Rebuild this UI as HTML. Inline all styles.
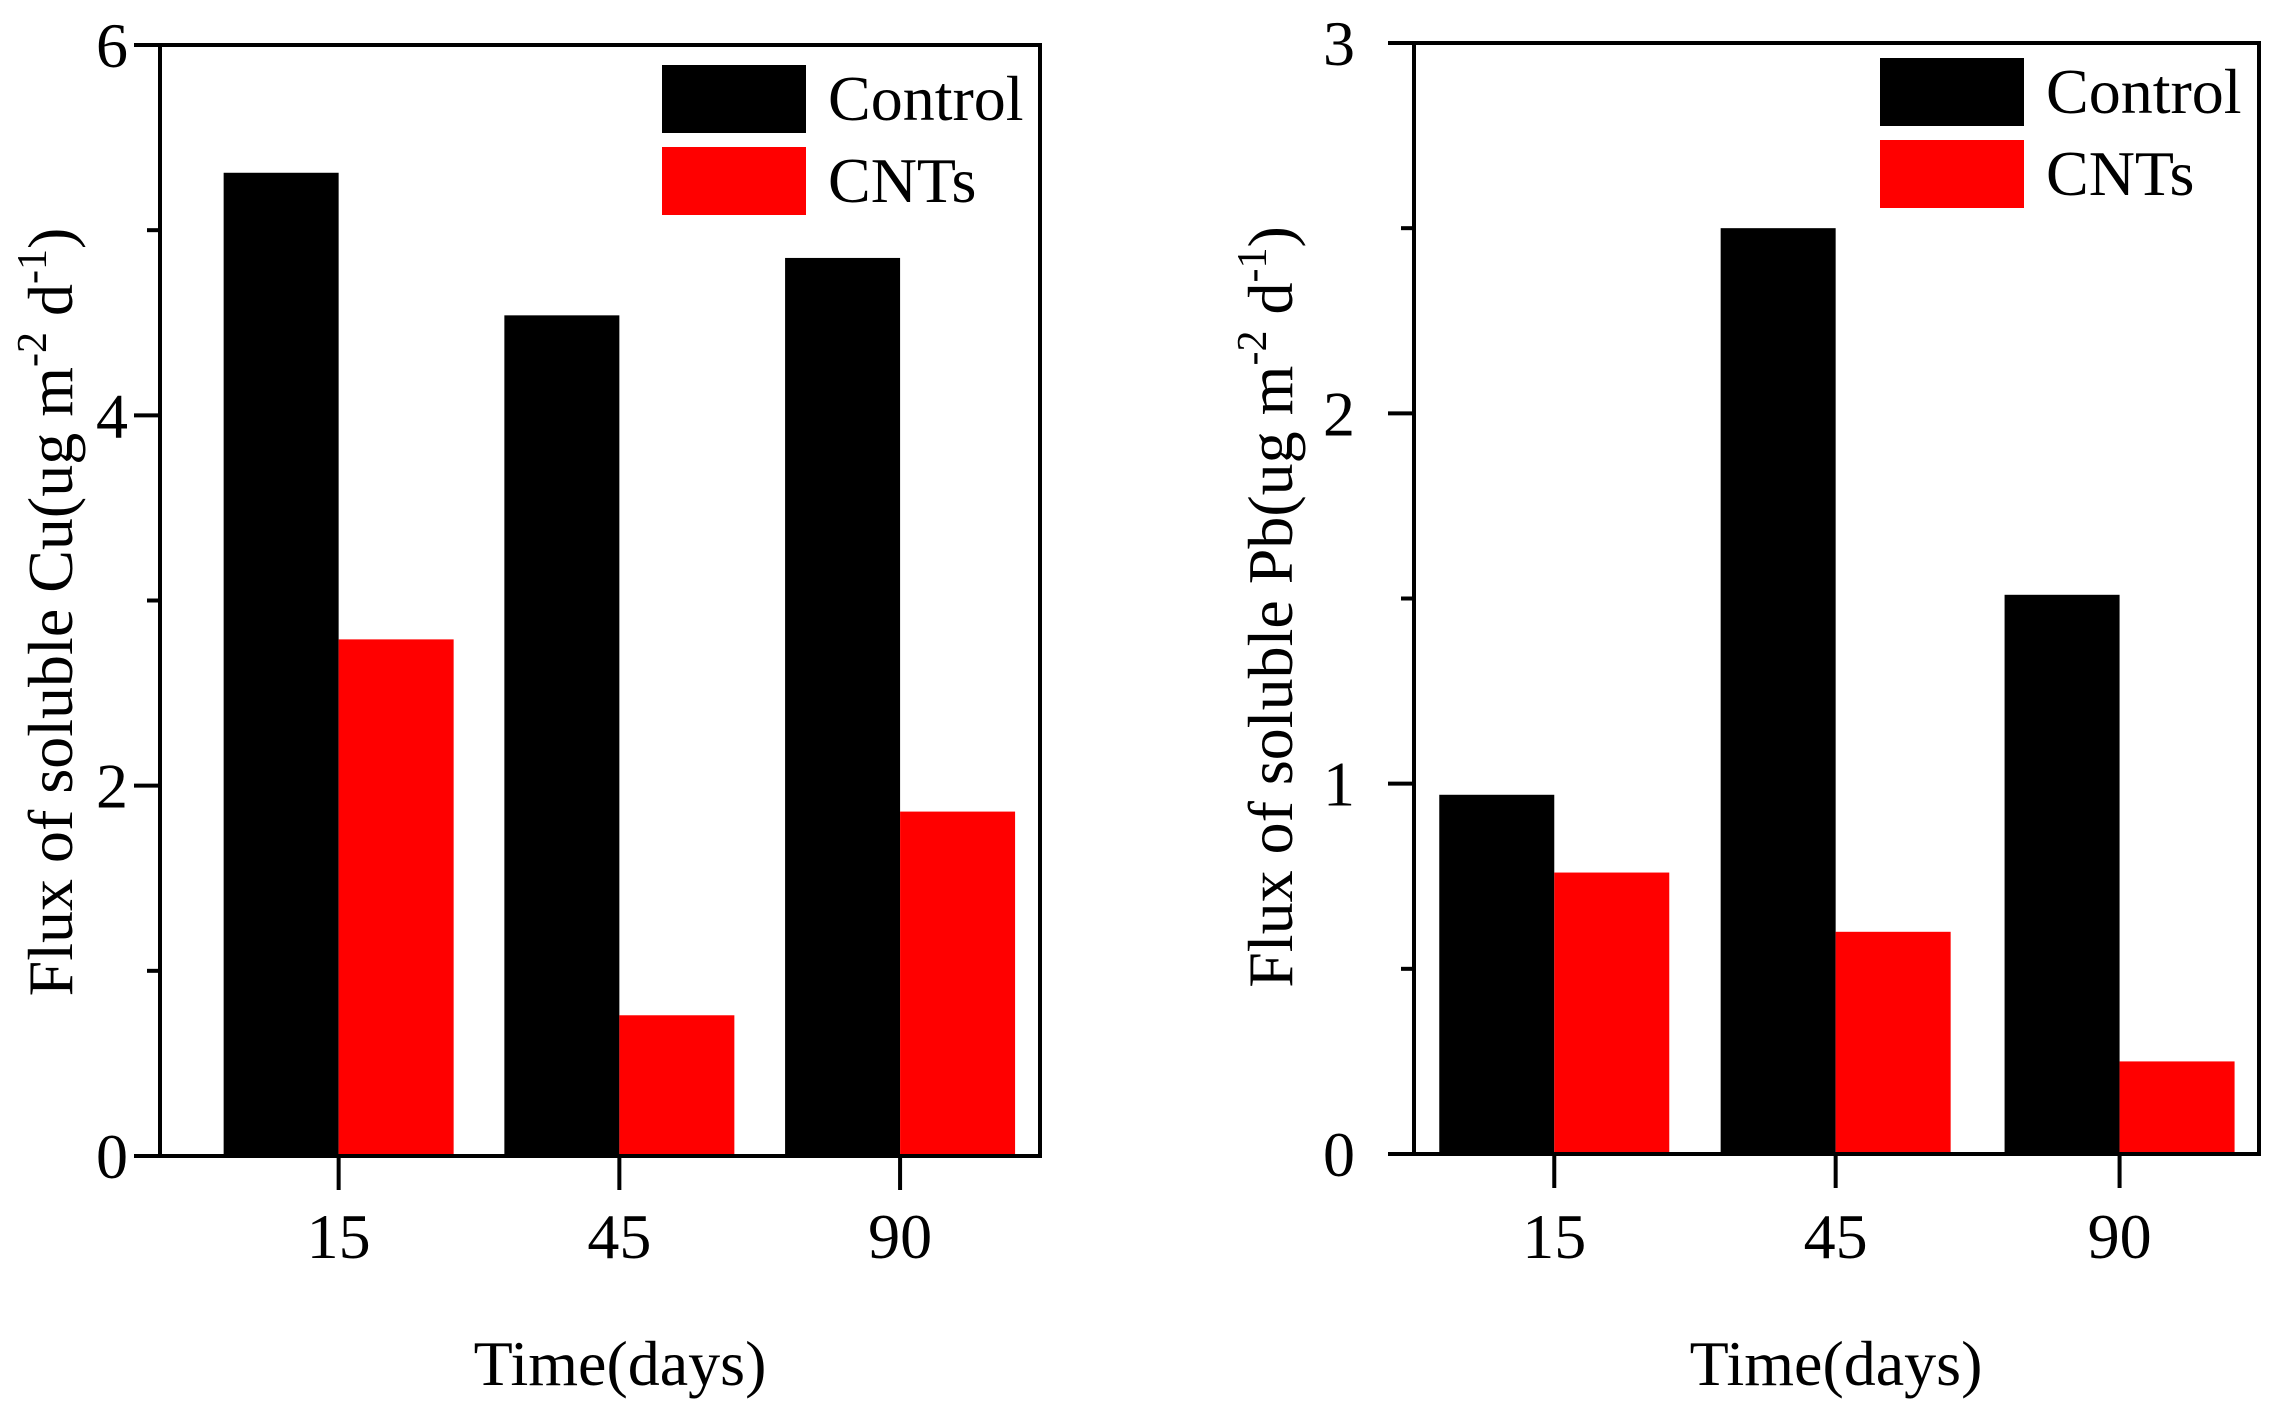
<!DOCTYPE html>
<html><head><meta charset="utf-8"><style>
html,body{margin:0;padding:0;background:#fff;}
svg{display:block;font-family:"Liberation Serif",serif;}
</style></head><body>
<svg id="chart" width="2285" height="1416" viewBox="0 0 2285 1416" xmlns="http://www.w3.org/2000/svg"></svg>
<script>
const categories = ["15", "45", "90"];
const cuControl = [5.31, 4.54, 4.85];
const cuCNTs = [2.79, 0.76, 1.86];
const pbControl = [0.97, 2.50, 1.51];
const pbCNTs = [0.76, 0.60, 0.25];
const cuTicks = [0, 2, 4, 6];
const pbTicks = [0, 1, 2, 3];
const seriesNames = ["Control", "CNTs"];

const NS = "http://www.w3.org/2000/svg";
const svg = document.getElementById("chart");
function mk(tag, attrs, parent) {
  const e = document.createElementNS(NS, tag);
  for (const k in attrs) e.setAttribute(k, attrs[k]);
  (parent || svg).appendChild(e);
  return e;
}

function panel(cfg) {
  const g = mk("g", {});
  
  
  const L = cfg.left, R = cfg.right, T = cfg.top, B = cfg.bottom, max = cfg.max;
  const y = v => B - (v / max) * (B - T);
  const W = R - L;
  const tickOff = cfg.frac;
  const x = i => L + tickOff[i] * W;
  const bw = cfg.bw;
  categories.forEach((c, i) => {
    const b1 = mk("rect", {x: x(i) - bw, y: y(cfg.s1[i]), width: bw, height: B - y(cfg.s1[i]), fill: "#000"}, g);
    
    
    const b2 = mk("rect", {x: x(i), y: y(cfg.s2[i]), width: bw, height: B - y(cfg.s2[i]), fill: "#ff0000"}, g);
    
    
  });
  const fr = mk("rect", {x: L, y: T, width: W, height: B - T, fill: "none", stroke: "#000", "stroke-width": 4}, g);
  
  
  const step = cfg.ticks[1] - cfg.ticks[0];
  cfg.ticks.forEach(t => {
    mk("line", {x1: L - 26, x2: L, y1: y(t), y2: y(t), stroke: "#000", "stroke-width": 4}, g);
    const tl = mk("text", {x: cfg.labelRight, y: y(t) + 22, "text-anchor": "end", "font-size": 64}, g);
    tl.textContent = t;
    
    
    if (t < max) mk("line", {x1: L - 13, x2: L, y1: y(t + step / 2), y2: y(t + step / 2), stroke: "#000", "stroke-width": 4}, g);
  });
  categories.forEach((c, i) => {
    mk("line", {x1: x(i), x2: x(i), y1: B, y2: B + 34, stroke: "#000", "stroke-width": 4}, g);
    const xl = mk("text", {x: x(i), y: 1258, "text-anchor": "middle", "font-size": 64}, g);
    xl.textContent = c;
    
    
  });
  const xt = mk("text", {x: cfg.xtx, y: 1385, "text-anchor": "middle", "font-size": 64}, g);
  xt.textContent = "Time(days)";
  
  
  const yt = mk("text", {x: 0, y: 0, "text-anchor": "middle", "font-size": 64, transform: "translate(" + cfg.ytx + "," + cfg.yty + ") rotate(-90)"}, g);
  
  
  yt.innerHTML = 'Flux of soluble ' + cfg.el + '(ug m<tspan dy="-26" font-size="42">-2</tspan><tspan dy="26"> d</tspan><tspan dy="-26" font-size="42">-1</tspan><tspan dy="26">)</tspan>';
  const colors = ["#000", "#ff0000"];
  seriesNames.forEach((s, k) => {
    const ly = cfg.legY + k * 82;
    const lr = mk("rect", {x: cfg.legX, y: ly, width: 144, height: 68, fill: colors[k]}, g);
    
    
    const lt = mk("text", {x: cfg.legX + 166, y: ly + 55, "font-size": 64}, g);
    lt.textContent = s;
    
    
  });
}

panel({name: "cu-panel", left: 160, right: 1040, top: 45, bottom: 1156, max: 6, ticks: cuTicks, s1: cuControl, s2: cuCNTs, el: "Cu", ytx: 72, yty: 612, legX: 662, legY: 65, labelRight: 128, xtx: 620, frac: [0.203, 0.522, 0.841], bw: 115});
panel({name: "pb-panel", left: 1414, right: 2259, top: 43, bottom: 1154, max: 3, ticks: pbTicks, s1: pbControl, s2: pbCNTs, el: "Pb", ytx: 1292, yty: 607, legX: 1880, legY: 58, labelRight: 1355, xtx: 1836, frac: [0.166, 0.499, 0.835], bw: 115});
</script>
</body></html>
